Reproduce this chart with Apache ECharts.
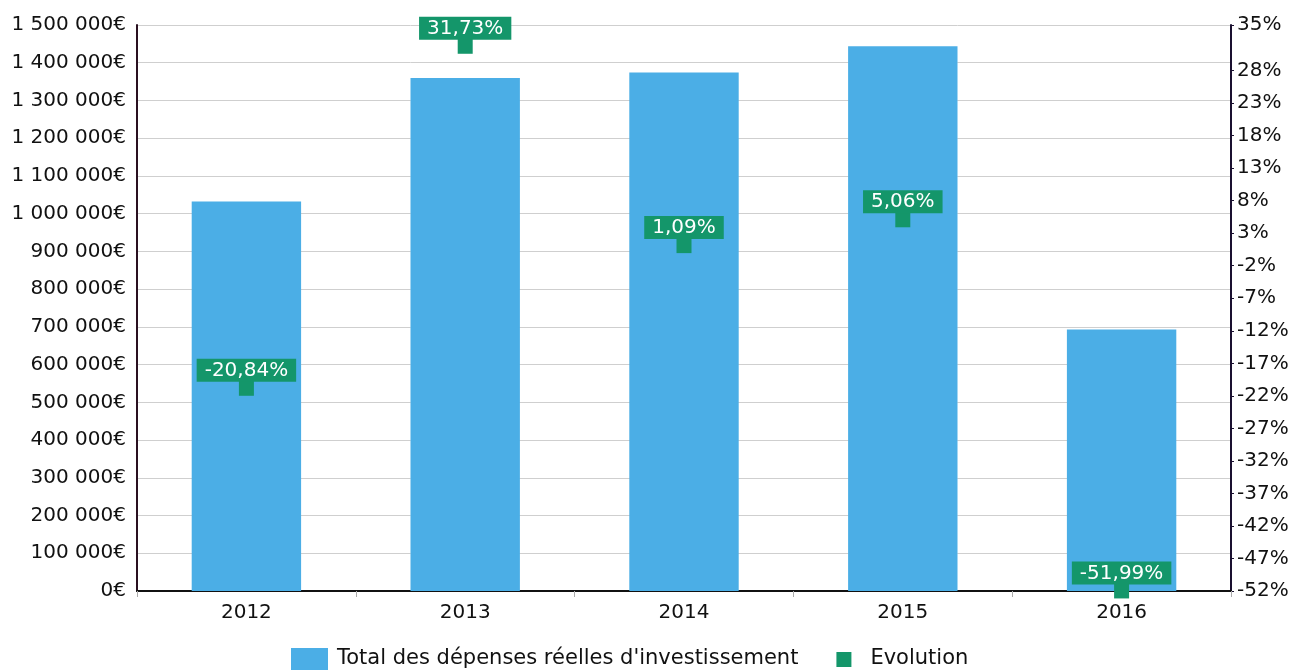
<!DOCTYPE html>
<html><head><meta charset="utf-8">
<script src="https://cdn.jsdelivr.net/npm/echarts@6/dist/echarts.min.js"></script>
<style>html,body{margin:0;padding:0;background:#fff}#c{width:1296px;height:670px}</style>
</head><body><div id="c"></div>
<script>
const categories = ['2012', '2013', '2014', '2015', '2016'];
const depenses = [1032000, 1359500, 1374300, 1443800, 693200];
const evolution = [-20.84, 31.73, 1.09, 5.06, -51.99];
const rightTicks = [-52, -47, -42, -37, -32, -27, -22, -17, -12, -7, -2, 3, 8, 13, 18, 23, 28, 35];
const barName = "Total des dépenses réelles d'investissement";
const lineName = 'Evolution';

const fmtEuro = v => String(Math.round(v)).replace(/\B(?=(\d{3})+(?!\d))/g, ' ') + '€';
const fmtPct = v => v.toFixed(2).replace('.', ',') + '%';

const chart = echarts.init(document.getElementById('c'));
chart.setOption({
  animation: false,
  textStyle: { fontFamily: 'DejaVu Sans' },
  grid: { left: 137, right: 65, top: 25, bottom: 79 },
  legend: {
    top: 648, left: 291, itemGap: 26, padding: 0,
    textStyle: { fontSize: 21, color: '#111', padding: [0, 0, 0, 4] },
    itemWidth: 37, itemHeight: 22,
    data: [
      { name: barName, icon: 'rect' },
      { name: lineName, icon: 'path://M0,0M37,22M12,4h15v15h-15z' }
    ]
  },
  xAxis: {
    type: 'category', data: categories,
    axisLine: { lineStyle: { color: '#111', width: 2 } },
    axisTick: { show: true, length: 6, lineStyle: { color: '#aaa' } },
    axisLabel: { fontSize: 20, color: '#111', margin: 12 }
  },
  yAxis: [
    {
      type: 'value', min: 0, max: 1500000, interval: 100000,
      axisLine: { show: true, lineStyle: { color: '#2a1020', width: 2 } },
      axisTick: { show: false },
      splitLine: { lineStyle: { color: '#cfcfcf', width: 1 } },
      axisLabel: { fontSize: 20, color: '#111', formatter: fmtEuro, margin: 11 }
    },
    {
      type: 'value', min: -52, max: 35, position: 'right',
      axisLine: { show: true, lineStyle: { color: '#1a1030', width: 2 } },
      axisTick: { show: true, length: 3, customValues: rightTicks, lineStyle: { color: '#1a1030' } },
      splitLine: { show: false },
      axisLabel: { fontSize: 20, color: '#111', customValues: rightTicks, formatter: v => Math.round(v) + '%', margin: 6 }
    }
  ],
  series: [
    {
      name: barName, type: 'bar', data: depenses, barWidth: '50%',
      itemStyle: { color: '#4baee6' }
    },
    {
      name: lineName, type: 'line', yAxisIndex: 1, data: evolution,
      lineStyle: { width: 0, opacity: 0 },
      symbol: 'rect', symbolSize: 15,
      itemStyle: { color: '#14966a' },
      label: {
        show: true, position: 'top', distance: -1,
        formatter: p => fmtPct(p.value),
        backgroundColor: '#14966a', color: '#fff', fontSize: 20,
        padding: [2, 8, 1, 8]
      }
    }
  ]
});
</script></body></html>
